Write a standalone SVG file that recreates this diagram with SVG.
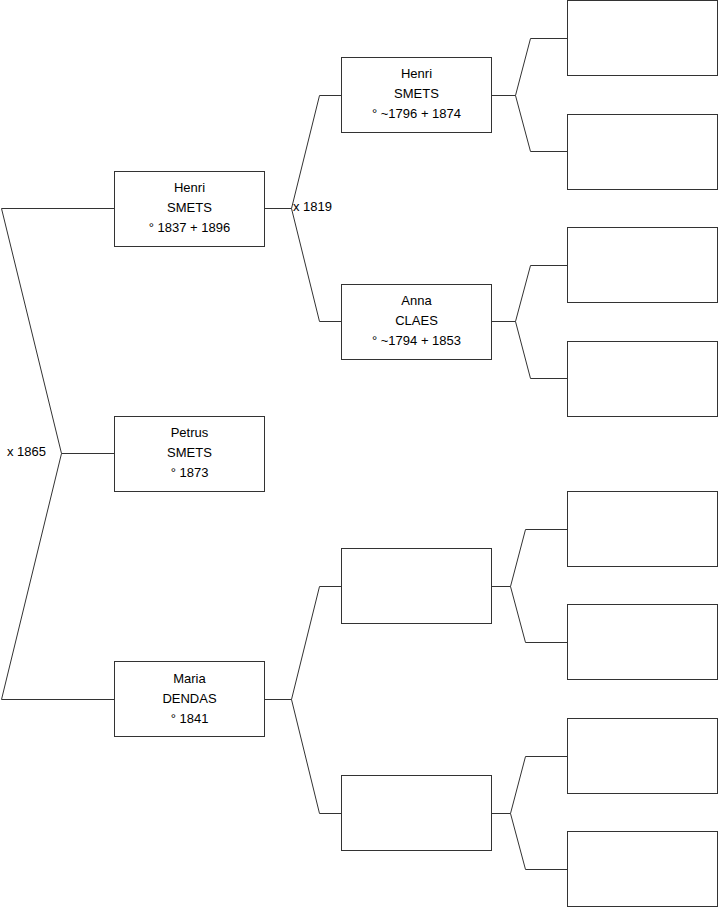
<svg xmlns="http://www.w3.org/2000/svg" width="719" height="908" viewBox="0 0 719 908">
<style>
.box{fill:#fff;stroke:#333;stroke-width:1}
.ln{fill:none;stroke:#333;stroke-width:1}
text{font-family:"Liberation Sans",Arial,sans-serif;font-size:13px;fill:#000}
.c{text-anchor:middle}
</style>
<rect width="719" height="908" fill="#fff"/>
<g id="connectors">
<path class="ln" d="M114,208.5 H1.5 L61.5,453.5 L1.5,699.5 H114 M61.5,453.5 H114"/>
<path class="ln" d="M265,208.5 H291.5 M341,95.5 H319.5 L291.5,208.5 L319.5,321.5 H341"/>
<path class="ln" d="M265,699.5 H291.5 M341,586.5 H319.5 L291.5,699.5 L319.5,813.5 H341"/>
<path class="ln" d="M491,95.5 H515.5 M567,38.5 H530.5 L515.5,95.5 L530.5,151.5 H567"/>
<path class="ln" d="M491,321.5 H515.5 M567,265.5 H530.5 L515.5,321.5 L530.5,378.5 H567"/>
<path class="ln" d="M491,586.5 H510.5 M567,529.5 H525.5 L510.5,586.5 L525.5,642.5 H567"/>
<path class="ln" d="M491,813.5 H510.5 M567,756.5 H525.5 L510.5,813.5 L525.5,869.5 H567"/>
<text x="7" y="456">x 1865</text>
<text x="293" y="211">x 1819</text>
</g>
<g id="henri1">
<rect class="box" x="114.5" y="171.5" width="150" height="75"/>
<text class="c" x="189.5" y="192">Henri</text>
<text class="c" x="189.5" y="212">SMETS</text>
<text class="c" x="189.5" y="232">° 1837 + 1896</text>
</g>
<g id="petrus">
<rect class="box" x="114.5" y="416.5" width="150" height="75"/>
<text class="c" x="189.5" y="437">Petrus</text>
<text class="c" x="189.5" y="457">SMETS</text>
<text class="c" x="189.5" y="477">° 1873</text>
</g>
<g id="maria">
<rect class="box" x="114.5" y="661.5" width="150" height="75"/>
<text class="c" x="189.5" y="683">Maria</text>
<text class="c" x="189.5" y="703">DENDAS</text>
<text class="c" x="189.5" y="723">° 1841</text>
</g>
<g id="henri2">
<rect class="box" x="341.5" y="57.5" width="150" height="75"/>
<text class="c" x="416.5" y="78">Henri</text>
<text class="c" x="416.5" y="98">SMETS</text>
<text class="c" x="416.5" y="118">° ~1796 + 1874</text>
</g>
<g id="anna">
<rect class="box" x="341.5" y="284.5" width="150" height="75"/>
<text class="c" x="416.5" y="305">Anna</text>
<text class="c" x="416.5" y="325">CLAES</text>
<text class="c" x="416.5" y="345">° ~1794 + 1853</text>
</g>
<g id="empty2a"><rect class="box" x="341.5" y="548.5" width="150" height="75"/></g>
<g id="empty2b"><rect class="box" x="341.5" y="775.5" width="150" height="75"/></g>
<g id="g3a"><rect class="box" x="567.5" y="0.5" width="150" height="75"/></g>
<g id="g3b"><rect class="box" x="567.5" y="114.5" width="150" height="75"/></g>
<g id="g3c"><rect class="box" x="567.5" y="227.5" width="150" height="75"/></g>
<g id="g3d"><rect class="box" x="567.5" y="341.5" width="150" height="75"/></g>
<g id="g3e"><rect class="box" x="567.5" y="491.5" width="150" height="75"/></g>
<g id="g3f"><rect class="box" x="567.5" y="604.5" width="150" height="75"/></g>
<g id="g3g"><rect class="box" x="567.5" y="718.5" width="150" height="75"/></g>
<g id="g3h"><rect class="box" x="567.5" y="831.5" width="150" height="75"/></g>
</svg>
